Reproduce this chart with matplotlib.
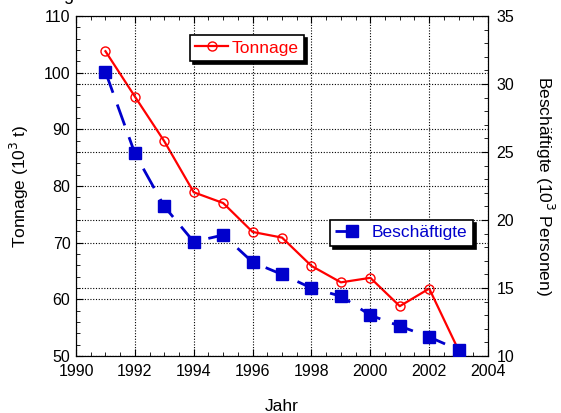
import matplotlib
matplotlib.use('Agg')
import matplotlib.pyplot as plt
from matplotlib.ticker import MultipleLocator

plt.rcParams['font.family'] = ['Liberation Sans', 'DejaVu Sans']

# Data
years = [1991, 1992, 1993, 1994, 1995, 1996, 1997, 1998, 1999, 2000, 2001, 2002, 2003]
tonnage = [103.8, 95.8, 87.9, 78.9, 77.0, 71.9, 70.9, 65.9, 63.0, 63.8, 58.8, 61.9, 51.0]
beschaeftigte = [30.9, 24.9, 21.0, 18.4, 18.9, 16.9, 16.0, 15.0, 14.4, 13.0, 12.2, 11.4, 10.45]

RED = '#ff0000'
BLUE = '#0000cc'

fig = plt.figure(figsize=(5.61, 4.13), dpi=100)
ax = fig.add_axes([0.1355, 0.138, 0.7345, 0.823])
ax2 = ax.twinx()

# Tonnage (left axis)
ax.plot(years, tonnage, color=RED, linewidth=1.6, marker='o', markersize=6.5,
        markerfacecolor='none', markeredgecolor=RED, markeredgewidth=1.0,
        label='Tonnage', zorder=5)
ax.set_xlim(1990, 2004)
ax.set_ylim(50, 110)
ax.xaxis.set_major_locator(MultipleLocator(2))
ax.xaxis.set_minor_locator(MultipleLocator(0.5))
ax.yaxis.set_major_locator(MultipleLocator(10))
ax.yaxis.set_minor_locator(MultipleLocator(2))
ax.tick_params(which='both', direction='in', top=True, right=False, labelsize=11.5)
ax.tick_params(which='major', length=5)
ax.tick_params(which='minor', length=3)
ax.tick_params(axis='x', pad=6)
ax.tick_params(axis='y', pad=4)
ax.grid(True, which='major', color='black', linestyle=(0, (1, 1.5)), linewidth=0.8)
ax.set_xlabel('Jahr', fontsize=12.5, labelpad=14)
ax.set_ylabel('Tonnage (10$^3$ t)', fontsize=12.5, labelpad=9)

# Beschaeftigte (right axis)
ax2.plot(years, beschaeftigte, color=BLUE, linewidth=2.0, linestyle=(0, (8, 4.5)),
         marker='s', markersize=8, markerfacecolor=BLUE, markeredgecolor=BLUE,
         label='Beschäftigte', zorder=5)
ax2.set_ylim(10, 35)
ax2.yaxis.set_major_locator(MultipleLocator(5))
ax2.yaxis.set_minor_locator(MultipleLocator(1))
ax2.tick_params(which='both', direction='in', labelsize=11.5, pad=6)
ax2.tick_params(which='major', length=5)
ax2.tick_params(which='minor', length=3)
ax2.grid(True, which='major', axis='y', color='black', linestyle=(0, (1, 1.5)), linewidth=0.8)
ax2.set_ylabel('Beschäftigte (10$^3$ Personen)', fontsize=12.5, rotation=270, labelpad=30)

shadow = {'color': 'black', 'alpha': 1.0, 'ox': 2.2, 'oy': -2.2}
leg1 = ax.legend(loc='upper left', bbox_to_anchor=(0.277, 0.944), frameon=True,
                 fancybox=False, shadow=shadow, edgecolor='black', labelcolor=RED,
                 fontsize=12.5, borderaxespad=0, handlelength=1.9, handletextpad=0.2,
                 borderpad=0.3)
leg1.get_frame().set_linewidth(1.2)
leg1.set_zorder(10)
leg2 = ax2.legend(loc='upper left', bbox_to_anchor=(0.617, 0.40), frameon=True,
                  fancybox=False, shadow=shadow, edgecolor='black', labelcolor=BLUE,
                  fontsize=12.5, borderaxespad=0, handlelength=1.9, handletextpad=0.2,
                  borderpad=0.3)
leg2.get_frame().set_linewidth(1.2)
leg2.set_zorder(10)

# clipped title remnant at the very top
fig.text(0.112, 1.0, 'g', fontsize=13, va='baseline', ha='left')

fig.savefig('out.png', dpi=100)
